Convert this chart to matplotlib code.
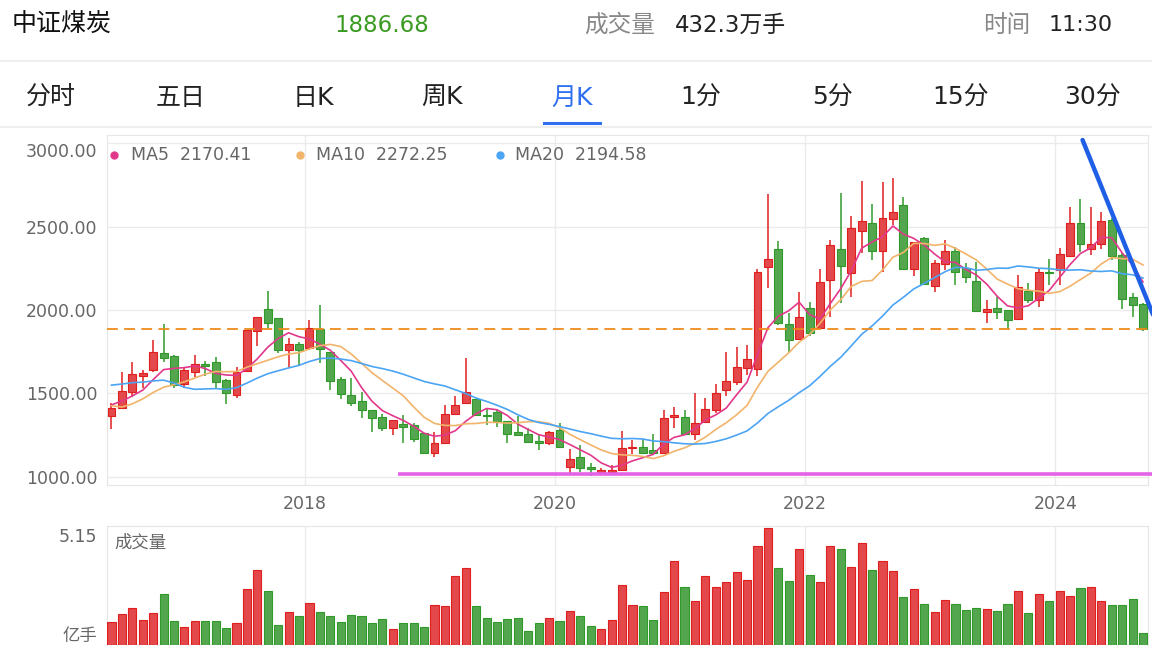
import numpy as np
import pandas as pd
import matplotlib
matplotlib.use("Agg")
import matplotlib.pyplot as plt
from matplotlib.lines import Line2D

plt.rcParams['font.family'] = ['DejaVu Sans', 'Noto Sans CJK SC']

# monthly K-line of 中证煤炭, 2016-06 .. 2024-09
start_month = '2016-06'
opens = [1364, 1410, 1506, 1606, 1640, 1740, 1726, 1554, 1630, 1674,
         1686, 1580, 1490, 1634, 1874, 2006, 1950, 1760, 1794, 1774,
         1884, 1746, 1586, 1490, 1454, 1400, 1356, 1294, 1318, 1310,
         1260, 1144, 1204, 1376, 1444, 1464, 1370, 1390, 1336, 1266,
         1256, 1212, 1200, 1280, 1056, 1116, 1056, 1024, 1030, 1040,
         1170, 1176, 1160, 1144, 1356, 1360, 1256, 1330, 1400, 1520,
         1570, 1650, 1644, 2256, 2364, 1914, 1824, 2010, 1890, 2180,
         2364, 2220, 2474, 2520, 2356, 2546, 2630, 2246, 2434, 2146,
         2274, 2354, 2250, 2174, 1990, 2010, 2000, 1946, 2114, 2060,
         2230, 2240, 2324, 2524, 2364, 2396, 2540, 2330, 2076, 2034]
highs = [1440, 1630, 1686, 1638, 1820, 1914, 1730, 1650, 1730, 1694,
         1718, 1586, 1660, 1880, 1960, 2114, 1950, 1830, 1806, 1940,
         2030, 1746, 1600, 1594, 1506, 1400, 1374, 1340, 1370, 1320,
         1260, 1270, 1430, 1482, 1714, 1464, 1404, 1400, 1336, 1364,
         1290, 1250, 1276, 1320, 1164, 1190, 1080, 1050, 1070, 1276,
         1220, 1224, 1256, 1400, 1420, 1400, 1500, 1470, 1556, 1750,
         1780, 1790, 2244, 2696, 2416, 1980, 2110, 2050, 2244, 2420,
         2704, 2566, 2774, 2634, 2766, 2790, 2680, 2410, 2440, 2300,
         2420, 2380, 2280, 2290, 2060, 2076, 2000, 2210, 2160, 2244,
         2306, 2374, 2620, 2664, 2616, 2590, 2550, 2340, 2104, 2040]
lows = [1286, 1405, 1480, 1534, 1626, 1686, 1534, 1530, 1600, 1606,
        1534, 1434, 1470, 1634, 1786, 1890, 1740, 1660, 1664, 1760,
        1680, 1520, 1464, 1426, 1354, 1266, 1274, 1250, 1200, 1210,
        1144, 1120, 1200, 1370, 1440, 1364, 1310, 1300, 1204, 1250,
        1210, 1160, 1190, 1170, 1020, 1030, 1004, 1020, 1024, 1036,
        1136, 1136, 1136, 1144, 1290, 1256, 1220, 1324, 1380, 1484,
        1550, 1610, 1604, 2130, 1910, 1750, 1820, 1844, 1890, 1960,
        2044, 2080, 2340, 2300, 2230, 2510, 2246, 2204, 2156, 2110,
        2240, 2150, 2160, 1990, 1924, 1944, 1884, 1946, 2040, 2020,
        2150, 2150, 2324, 2350, 2330, 2364, 2300, 2004, 1960, 1876]
closes = [1414, 1514, 1614, 1624, 1746, 1714, 1550, 1638, 1676, 1666,
          1570, 1500, 1626, 1880, 1960, 1920, 1760, 1798, 1760, 1894,
          1764, 1576, 1494, 1440, 1400, 1354, 1294, 1340, 1300, 1226,
          1144, 1204, 1374, 1430, 1510, 1370, 1362, 1336, 1256, 1252,
          1210, 1204, 1270, 1176, 1104, 1050, 1044, 1040, 1040, 1170,
          1180, 1140, 1140, 1350, 1370, 1256, 1324, 1404, 1500, 1574,
          1656, 1704, 2230, 2304, 1920, 1820, 1960, 1860, 2170, 2390,
          2266, 2494, 2536, 2354, 2550, 2588, 2246, 2410, 2156, 2280,
          2354, 2230, 2196, 1994, 2004, 1990, 1940, 2136, 2060, 2230,
          2220, 2334, 2520, 2394, 2396, 2536, 2324, 2064, 2030, 1886.68]
# volume in 亿手
volumes = [1.00, 1.38, 1.62, 1.09, 1.40, 2.27, 1.04, 0.79, 1.07, 1.04,
           1.04, 0.74, 0.96, 2.46, 3.31, 2.37, 0.87, 1.47, 1.28, 1.85,
           1.47, 1.30, 1.03, 1.34, 1.28, 0.99, 1.15, 0.70, 0.99, 0.96,
           0.79, 1.77, 1.72, 3.05, 3.40, 1.74, 1.21, 1.00, 1.15, 1.19,
           0.63, 0.99, 1.21, 1.07, 1.52, 1.27, 0.84, 0.69, 1.09, 2.63,
           1.78, 1.72, 1.12, 2.34, 3.71, 2.56, 1.96, 3.05, 2.56, 2.80,
           3.21, 2.88, 4.36, 5.15, 3.38, 2.84, 4.24, 3.08, 2.80, 4.39,
           4.22, 3.44, 4.49, 3.31, 3.69, 3.25, 2.12, 2.47, 1.80, 1.47,
           1.97, 1.81, 1.55, 1.65, 1.60, 1.52, 1.82, 2.38, 1.40, 2.27,
           1.94, 2.37, 2.15, 2.53, 2.58, 1.93, 1.75, 1.78, 2.03, 0.53]
# closes before the visible window (2014-11 .. 2016-05), only for MA warm-up
pre_closes = [1380, 1450, 1560, 1600, 1620, 1900, 2150, 1920, 1620, 1530,
              1590, 1420, 1330, 1360, 1400, 1400, 1460, 1450, 1430]

ma_periods = [5, 10, 20]
ma_labels = ['MA5  2170.41', 'MA10  2272.25', 'MA20  2194.58']
ma_colors = ['#e2388c', '#f2b36a', '#4ba4f4']

last_price = 1886.68
support_level = 1016
support_start = 27.5
trend_pts = ([93.2, 99.86], [3020, 1988])

tabs = ['分时', '五日', '日K', '周K', '月K', '1分', '5分', '15分', '30分']
active_tab = '月K'

W, H = 1152, 652
RED, RED_EDGE = '#e3484a', '#e01e1e'
GREEN, GREEN_EDGE = '#53a64d', '#2f9a2a'
GRID = '#ebebeb'
LABEL = '#666666'


def fx(px):
    return px / W


def fy(py):
    return 1 - py / H


n = len(closes)
x = np.arange(n)
o = np.array(opens)
c = np.array(closes)
up = c >= o
fill = np.where(up, RED, GREEN)
edge = np.where(up, RED_EDGE, GREEN_EDGE)

months = pd.period_range(start_month, periods=n, freq='M')
year_idx = [i for i, m in enumerate(months) if m.month == 1 and m.year % 2 == 0]
year_pos = [i - 0.42 for i in year_idx]
year_lab = [str(months[i].year) for i in year_idx]

fig = plt.figure(figsize=(W / 100, H / 100), dpi=100)

# ---- header ----
hy = fy(25)
fig.text(fx(12), hy, '中证煤炭', fontsize=18, color='#111111', va='center')
fig.text(fx(382), hy, f'{last_price:.2f}', fontsize=16.5, color='#3a9a22', va='center', ha='center')
fig.text(fx(584), hy, '成交量', fontsize=17, color='#888888', va='center')
fig.text(fx(675), hy, '432.3万手', fontsize=16.5, color='#222222', va='center')
fig.text(fx(983), hy, '时间', fontsize=17, color='#888888', va='center')
fig.text(fx(1049), hy, '11:30', fontsize=16, color='#222222', va='center')
fig.add_artist(Line2D([0, 1], [fy(61), fy(61)], color='#eeeeee', lw=1.5))

# ---- tabs ----
tab_x = [51, 181, 313, 442, 572, 701, 832, 961, 1092]
for tx, t in zip(tab_x, tabs):
    col = '#2f6ff0' if t == active_tab else '#222222'
    fig.text(fx(tx), fy(98), t, fontsize=18, color=col, ha='center', va='center')
    if t == active_tab:
        fig.add_artist(Line2D([fx(tx - 28), fx(tx + 28)], [fy(123), fy(123)], color='#2f6ff0', lw=2.2))
fig.add_artist(Line2D([0, 1], [fy(126.5), fy(126.5)], color='#eeeeee', lw=1.5))

# ---- price panel ----
ax = fig.add_axes([fx(107), fy(485), fx(1148) - fx(107), fy(134.7) - fy(485)])
ax.set_xlim(-0.43, 99.48)
ax.set_ylim(950, 3052)
ax.vlines(x, lows, highs, colors=edge, lw=1.1, zorder=2)
body_h = np.maximum(np.abs(c - o), 5)
ax.bar(x, body_h, bottom=np.minimum(o, c), width=0.76, color=fill,
       edgecolor=edge, lw=0.8, zorder=3)

full = pd.Series(pre_closes + closes)
for p, col in zip(ma_periods, ma_colors):
    ma = full.rolling(p).mean().iloc[len(pre_closes):].values
    ax.plot(x, ma, color=col, lw=1.2, zorder=4)

ax.axhline(last_price, color='#ee8a1c', lw=1.3, ls=(0, (6, 3.5)), zorder=5)
ax.plot([support_start, 100.6], [support_level, support_level], color='#e462e8',
        lw=2.6, solid_capstyle='butt', clip_on=False, zorder=6)
tx0, tx1 = trend_pts[0]
ty0, ty1 = trend_pts[1]
slope = (ty1 - ty0) / (tx1 - tx0)
ax.plot([tx0, 100.6], [ty0, ty0 + slope * (100.6 - tx0)], color='#1f5fe6',
        lw=3.2, solid_capstyle='round', clip_on=False, zorder=6)

ax.set_yticks([1000, 1500, 2000, 2500, 3000])
ax.set_yticklabels([f'{v:.2f}' for v in [1000, 1500, 2000, 2500, 3000]])
ax.get_yticklabels()[-1].set_va('top')
ax.set_xticks(year_pos)
ax.set_xticklabels(year_lab)
ax.tick_params(length=0, labelsize=12.5, labelcolor=LABEL)
ax.tick_params(axis='y', pad=7)
ax.tick_params(axis='x', pad=7)
ax.grid(True, color=GRID, lw=1)
ax.set_axisbelow(True)
for s in ax.spines.values():
    s.set_color('#e6e6e6')

leg_x = [(0.0067, 0.0235), (0.1854, 0.2008), (0.3775, 0.392)]
for (dx, tx), lab, col in zip(leg_x, ma_labels, ma_colors):
    ax.plot([dx], [0.942], 'o', ms=5, color=col, transform=ax.transAxes, zorder=7)
    ax.text(tx, 0.942, lab, transform=ax.transAxes, fontsize=12.5, color=LABEL,
            va='center', zorder=7)

# ---- volume panel ----
axv = fig.add_axes([fx(107), fy(645), fx(1148) - fx(107), fy(526) - fy(645)])
axv.set_xlim(-0.43, 99.48)
vmax = max(volumes)
axv.set_ylim(0, vmax * 1.02)
axv.bar(x, volumes, width=0.78, color=fill, edgecolor=edge, lw=0.8, zorder=3)
axv.set_xticks(year_pos)
axv.set_xticklabels([])
axv.set_yticks([0, vmax])
axv.set_yticklabels(['亿手', f'{vmax:.2f}'])
axv.get_yticklabels()[0].set_va('bottom')
axv.get_yticklabels()[1].set_va('top')
axv.tick_params(length=0, labelsize=12.5, labelcolor=LABEL, pad=7)
axv.grid(True, axis='x', color=GRID, lw=1)
axv.set_axisbelow(True)
for s in axv.spines.values():
    s.set_color('#e6e6e6')
axv.spines['bottom'].set_visible(False)
axv.text(0.007, 0.86, '成交量', transform=axv.transAxes, fontsize=12.5, color=LABEL, va='center')

fig.savefig('out.png', dpi=100)
